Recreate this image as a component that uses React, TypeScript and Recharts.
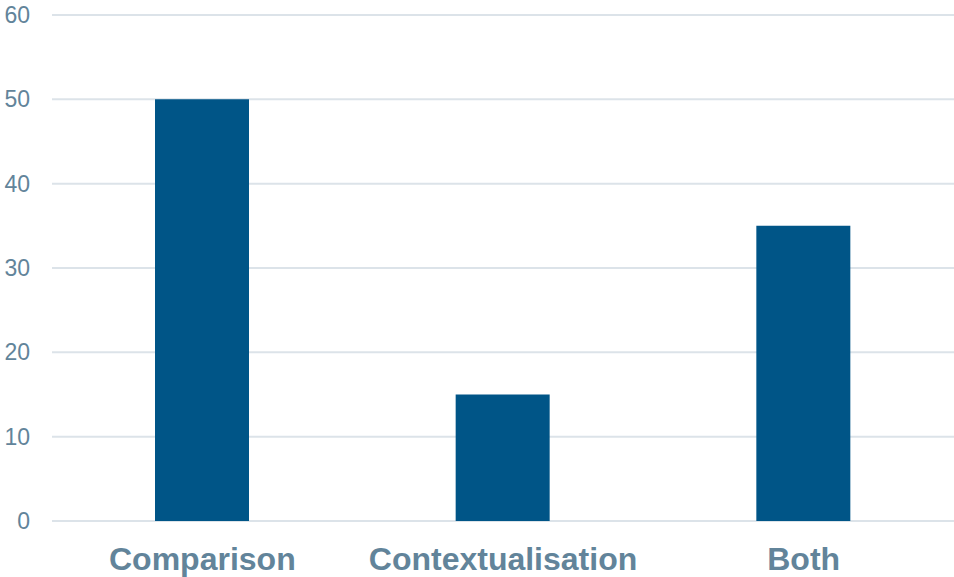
import { Bar, BarChart, CartesianGrid, XAxis, YAxis } from "recharts"

const categories = ["Comparison", "Contextualisation", "Both"]
const counts = [50, 15, 35]
const yTicks = [0, 10, 20, 30, 40, 50, 60]

const data = categories.map((name, i) => ({ name, count: counts[i] }))

const textColor = "#62849a"

export default function App() {
  return (
    <div
      style={{
        position: "absolute",
        left: 0,
        top: 0,
        width: 954,
        height: 577,
        fontFamily: "'Liberation Sans', Arial, sans-serif",
      }}
    >
      <BarChart
        width={954}
        height={577}
        data={data}
        margin={{ top: 15, right: 0, bottom: 0, left: 0 }}
        barSize={94}
      >
        <CartesianGrid vertical={false} stroke="#dce3e9" strokeWidth={2} />
        <YAxis
          width={52}
          domain={[0, 60]}
          ticks={yTicks}
          axisLine={false}
          tickLine={false}
          tickSize={0}
          tickMargin={22}
          tick={{ fill: textColor, fontSize: 23 }}
        />
        <XAxis
          dataKey="name"
          height={56}
          axisLine={false}
          tickLine={false}
          tickSize={0}
          tickMargin={26}
          interval={0}
          tick={{ fill: textColor, fontSize: 32, fontWeight: "bold" }}
        />
        <Bar dataKey="count" fill="#005587" isAnimationActive={false} />
      </BarChart>
    </div>
  )
}
